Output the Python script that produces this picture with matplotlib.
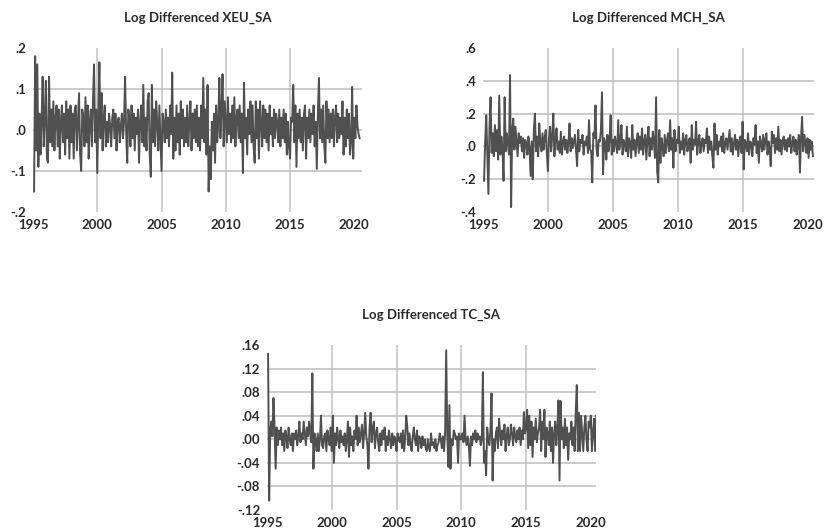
import numpy as np
import matplotlib
matplotlib.use("Agg")
import matplotlib.pyplot as plt

# ---------------- data (monthly log differences, 1995m2 .. 2020m6) ----------------
xeu_sa = [
    -0.15, 0.18, -0.05, 0.16, -0.09, 0.04, -0.06, 0.02, 0.13, -0.04, 0.03,
    0.12, -0.07, -0.08, 0.13, -0.03, 0.05, -0.04, 0.07, -0.05, 0.03, 0.06, -0.04,
    0.05, -0.07, 0.02, 0.06, -0.03, 0.04, -0.06, 0.07, -0.02, 0.05, -0.07, 0.06,
    -0.03, 0.04, -0.07, 0.05, 0.06, -0.05, 0.02, 0.09, -0.06, -0.10, 0.05, 0.03,
    -0.04, 0.08, -0.03, 0.06, -0.07, 0.02, 0.05, -0.04, 0.07, 0.16, -0.03, 0.05,
    -0.105, 0.04, 0.165, -0.02, 0.09, -0.05, 0.03, 0.06, -0.04, 0.02, -0.03, 0.04,
    0.01, -0.04, 0.03, 0.05, -0.02, 0.04, -0.05, 0.02, 0.03, -0.03, 0.01, 0.04,
    -0.02, 0.02, 0.13, -0.01, -0.08, 0.05, 0.03, -0.04, 0.06, -0.02, 0.04, -0.05,
    0.03, -0.01, 0.05, -0.08, 0.02, 0.06, -0.03, 0.11, -0.04, 0.03, -0.05, 0.07,
    0.09, -0.06, -0.114, 0.11, -0.03, 0.05, -0.04, 0.07, 0.02, -0.05, 0.06, -0.02,
    -0.10, 0.04, 0.02, -0.03, 0.05, -0.02, 0.03, -0.04, 0.06, -0.01, 0.14, -0.07,
    0.03, -0.05, 0.06, -0.03, 0.04, -0.06, 0.07, -0.02, 0.05, -0.04, 0.03, -0.03,
    0.06, -0.04, 0.02, 0.07, -0.05, 0.04, -0.02, 0.05, -0.03, 0.06, -0.04, 0.03,
    -0.05, 0.06, -0.02, 0.127, -0.03, 0.05, -0.06, 0.11, -0.15, -0.04, -0.12, 0.02,
    -0.05, 0.04, -0.08, 0.06, -0.03, 0.02, 0.127, -0.02, 0.05, 0.136, -0.04, 0.07,
    0.02, -0.03, 0.08, -0.01, 0.04, -0.03, 0.06, -0.02, 0.08, -0.04, 0.03, 0.05,
    -0.02, 0.06, -0.03, 0.04, -0.105, 0.115, -0.02, 0.03, -0.06, 0.05, -0.01, 0.07,
    -0.03, 0.06, -0.04, -0.08, 0.07, -0.02, 0.05, -0.07, 0.07, 0.02, -0.04, 0.06,
    -0.02, 0.05, -0.03, 0.04, -0.05, 0.06, -0.01, 0.03, -0.04, 0.05, -0.02, 0.04,
    0.02, -0.03, 0.05, -0.04, 0.03, -0.02, 0.05, -0.03, 0.04, -0.06, 0.02, -0.04,
    -0.07, 0.03, 0.02, 0.11, -0.03, 0.06, -0.09, 0.04, -0.02, 0.05, -0.03, 0.03,
    -0.05, 0.04, 0.06, -0.07, 0.03, -0.02, 0.05, -0.03, 0.04, -0.01, 0.06, -0.04,
    0.02, -0.095, 0.04, 0.127, -0.02, 0.05, -0.03, 0.06, -0.04, -0.08, 0.07, -0.02,
    0.05, -0.03, 0.04, -0.02, 0.05, -0.04, 0.03, 0.06, -0.03, 0.04, -0.02, 0.03,
    -0.01, 0.07, -0.06, 0.03, -0.04, 0.05, -0.02, 0.04, -0.06, -0.03, 0.105, -0.07,
    0.03, -0.02, 0.06, 0.01, -0.01, -0.02,
]

mch_sa = [
    -0.21, 0.03, 0.19, -0.05, -0.29, 0.12, 0.30, -0.04, 0.08, -0.06, 0.13,
    -0.03, 0.10, -0.08, 0.31, -0.05, 0.06, -0.02, -0.21, 0.30, -0.03, 0.08, 0.02,
    -0.05, 0.435, -0.37, 0.10, 0.17, -0.02, 0.12, 0.03, -0.06, 0.08, 0.02, 0.06,
    -0.03, 0.05, -0.07, 0.04, 0.02, -0.05, 0.06, -0.01, -0.18, 0.03, -0.20, 0.10,
    0.20, -0.03, 0.06, -0.06, 0.14, 0.02, -0.03, 0.08, -0.02, 0.05, 0.10, -0.04,
    -0.15, 0.05, 0.12, -0.03, 0.06, 0.20, -0.06, 0.04, 0.11, -0.02, 0.03, -0.04,
    0.09, -0.05, 0.03, 0.06, -0.02, 0.04, -0.04, 0.02, 0.14, -0.03, 0.05, -0.01,
    0.03, 0.07, -0.02, -0.12, 0.10, -0.03, 0.04, 0.02, 0.07, -0.05, 0.03, 0.01,
    0.06, -0.04, 0.16, -0.02, -0.03, -0.22, 0.08, 0.05, 0.25, -0.02, -0.06, 0.04,
    0.03, 0.10, 0.33, -0.17, 0.05, 0.02, -0.08, 0.07, -0.03, 0.04, 0.19, -0.05,
    0.04, -0.03, 0.06, 0.02, -0.04, 0.16, -0.02, 0.03, 0.13, -0.05, 0.04, 0.01,
    -0.03, 0.12, -0.06, 0.05, 0.02, -0.07, 0.13, -0.02, 0.04, -0.06, 0.03, 0.08,
    -0.04, 0.06, -0.02, 0.11, -0.05, 0.03, 0.07, -0.08, 0.04, 0.12, -0.06, 0.05,
    -0.02, 0.09, 0.03, -0.07, 0.30, -0.15, -0.22, 0.10, -0.10, 0.05, 0.00, -0.06,
    0.07, -0.04, 0.03, 0.08, -0.03, 0.16, -0.02, 0.05, -0.13, 0.10, -0.03, 0.04,
    0.02, 0.12, -0.04, 0.03, -0.02, 0.08, -0.05, 0.04, 0.07, -0.03, 0.02, 0.05,
    -0.10, 0.13, -0.02, 0.04, 0.01, 0.15, -0.05, 0.03, 0.07, -0.04, 0.02, 0.05,
    -0.03, 0.04, 0.02, 0.11, -0.04, 0.06, -0.02, 0.03, -0.06, -0.13, 0.14, -0.02,
    0.07, -0.05, 0.03, 0.00, 0.06, -0.03, 0.08, -0.04, 0.02, 0.05, -0.02, 0.04,
    0.10, -0.03, 0.05, -0.05, 0.02, 0.07, -0.02, 0.04, -0.06, 0.03, 0.06, -0.04,
    0.15, -0.14, 0.04, 0.02, -0.03, 0.08, -0.05, 0.03, 0.02, -0.06, 0.05, 0.01,
    0.13, -0.04, 0.03, -0.10, 0.06, 0.02, -0.03, 0.07, -0.02, 0.04, 0.08, -0.05,
    0.03, -0.02, -0.12, 0.09, 0.02, 0.07, -0.04, 0.05, -0.02, 0.12, -0.03, 0.04,
    -0.05, 0.03, 0.06, -0.02, 0.04, -0.03, 0.05, 0.00, 0.07, -0.04, 0.02, 0.06,
    -0.03, 0.04, -0.05, 0.02, 0.07, -0.16, 0.05, 0.18, -0.03, 0.07, 0.02, -0.04,
    0.05, -0.07, 0.04, -0.02, 0.03, -0.06,
]

tc_sa = [
    0.145, -0.104, 0.015, 0.03, 0.005, 0.07, 0.02, -0.05, 0.02, -0.01, 0.015,
    0.0, 0.02, -0.01, 0.01, -0.02, 0.015, 0.005, -0.015, 0.02, 0.0, -0.01, 0.01,
    -0.02, 0.01, 0.0, 0.015, -0.01, 0.005, 0.03, -0.005, 0.01, 0.0, 0.03, 0.01,
    -0.01, 0.02, 0.005, 0.03, 0.01, -0.005, 0.112, -0.05, 0.01, 0.0, -0.02, 0.01,
    -0.02, 0.0, 0.04, -0.01, -0.015, 0.005, 0.01, -0.02, 0.015, 0.0, -0.01, 0.02,
    -0.02, 0.04, -0.04, 0.01, -0.01, 0.02, 0.0, -0.015, 0.015, -0.005, 0.005, -0.01,
    0.01, -0.02, 0.0, 0.03, -0.03, 0.02, -0.01, 0.005, -0.02, 0.015, 0.0, 0.04,
    -0.01, 0.02, -0.005, 0.01, 0.025, -0.015, 0.01, 0.045, 0.005, -0.01, -0.05, 0.02,
    0.045, -0.005, 0.02, 0.03, -0.015, 0.01, 0.02, -0.005, -0.02, 0.01, -0.01, 0.015,
    0.0, 0.02, -0.02, 0.005, -0.01, 0.015, 0.0, -0.015, 0.01, -0.01, 0.005, 0.0,
    -0.02, 0.01, 0.0, -0.005, 0.01, -0.015, 0.015, -0.02, 0.0, 0.04, 0.02, -0.01,
    0.01, -0.01, -0.02, 0.005, 0.02, 0.0, -0.01, 0.015, -0.02, 0.005, 0.0, -0.015,
    0.005, -0.01, 0.0, -0.015, -0.02, 0.0, -0.015, -0.02, 0.01, -0.01, -0.005, -0.015,
    0.0, -0.02, -0.01, -0.005, 0.01, 0.0, -0.015, 0.005, -0.02, 0.01, 0.151, 0.01,
    -0.047, 0.058, -0.05, 0.0, -0.01, 0.015, 0.01, 0.0, 0.005, -0.04, 0.01, 0.0,
    0.0, 0.01, -0.005, 0.04, 0.0, -0.01, 0.005, -0.01, -0.045, 0.005, -0.01, 0.01,
    0.0, 0.015, -0.005, 0.01, 0.0, 0.005, -0.01, 0.0, 0.114, -0.04, -0.02, -0.061,
    0.02, 0.0, -0.01, 0.015, 0.078, -0.07, 0.0, -0.02, 0.01, 0.02, -0.015, 0.035,
    0.01, -0.01, 0.015, 0.0, 0.025, -0.02, 0.005, 0.02, -0.01, 0.0, 0.025, 0.01,
    -0.01, 0.02, 0.005, -0.005, 0.015, 0.0, 0.02, -0.01, 0.015, 0.0, 0.046, 0.01,
    0.02, 0.05, -0.015, 0.04, -0.01, 0.03, -0.03, 0.02, 0.0, 0.035, -0.005, 0.01,
    0.02, 0.05, -0.02, 0.03, 0.0, 0.05, -0.03, 0.02, 0.01, -0.01, 0.03, -0.02,
    0.02, -0.04, 0.01, 0.03, -0.01, 0.02, 0.066, -0.07, 0.065, 0.0, 0.02, -0.015,
    0.035, -0.01, 0.02, -0.035, 0.01, 0.0, 0.03, -0.01, 0.02, -0.02, 0.045, 0.092,
    -0.02, 0.045, -0.02, 0.04, 0.01, -0.02, 0.02, 0.04, 0.0, -0.02, 0.03, 0.02,
    0.04, -0.02, 0.01, 0.035, -0.02, 0.04,
]

titles = ["Log Differenced XEU_SA", "Log Differenced MCH_SA", "Log Differenced TC_SA"]
xticks = [1995, 2000, 2005, 2010, 2015, 2020]
yticks_xeu = [-0.2, -0.1, 0.0, 0.1, 0.2]
ylabels_xeu = ["-.2", "-.1", ".0", ".1", ".2"]
yticks_mch = [-0.4, -0.2, 0.0, 0.2, 0.4, 0.6]
ylabels_mch = ["-.4", "-.2", ".0", ".2", ".4", ".6"]
yticks_tc = [-0.12, -0.08, -0.04, 0.0, 0.04, 0.08, 0.12, 0.16]
ylabels_tc = ["-.12", "-.08", "-.04", ".00", ".04", ".08", ".12", ".16"]

# ---------------- figure ----------------
W, H = 827, 529
fig = plt.figure(figsize=(W / 100, H / 100), dpi=100)
plt.rcParams['font.family'] = ['Lato', 'DejaVu Sans']

def px_axes(left, right, top, bottom):
    return fig.add_axes([left / W, 1 - bottom / H, (right - left) / W, (bottom - top) / H])

def panel(ax, series, title, xlim, yticks, ylabels):
    t = 1995 + (np.arange(len(series)) + 1) / 12.0
    ax.set_xlim(*xlim)
    ax.set_ylim(yticks[0], yticks[-1])
    for x in xticks[1:-1]:
        ax.axvline(x, color='#c2c2c2', lw=1.1, zorder=1)
    for y in yticks[1:-1]:
        ax.axhline(y, color='#bdbdbd', lw=1.1, zorder=1)
    ax.plot(t, series, color='#505050', lw=1.4, zorder=3)
    for s in ax.spines.values():
        s.set_visible(False)
    ax.set_xticks(xticks)
    ax.set_xticklabels([str(v) for v in xticks])
    ax.set_yticks(yticks)
    ax.set_yticklabels(ylabels)
    ax.tick_params(length=0, labelsize=9.5, colors='#2a2a2a', pad=5)
    for lab in ax.get_xticklabels() + ax.get_yticklabels():
        lab.set_fontweight('bold')
    ax.set_title(title, fontsize=9.5, color='#2a2a2a', fontweight='bold', pad=19)

ax1 = px_axes(33, 362, 48, 212)
panel(ax1, xeu_sa, titles[0], (1995, 2020.6), yticks_xeu, ylabels_xeu)

ax2 = px_axes(483, 814, 48, 212)
panel(ax2, mch_sa, titles[1], (1995, 2020.5), yticks_mch, ylabels_mch)

ax3 = px_axes(267, 596, 345, 510)
panel(ax3, tc_sa, titles[2], (1995, 2020.4), yticks_tc, ylabels_tc)

fig.savefig("out.png", dpi=100)
